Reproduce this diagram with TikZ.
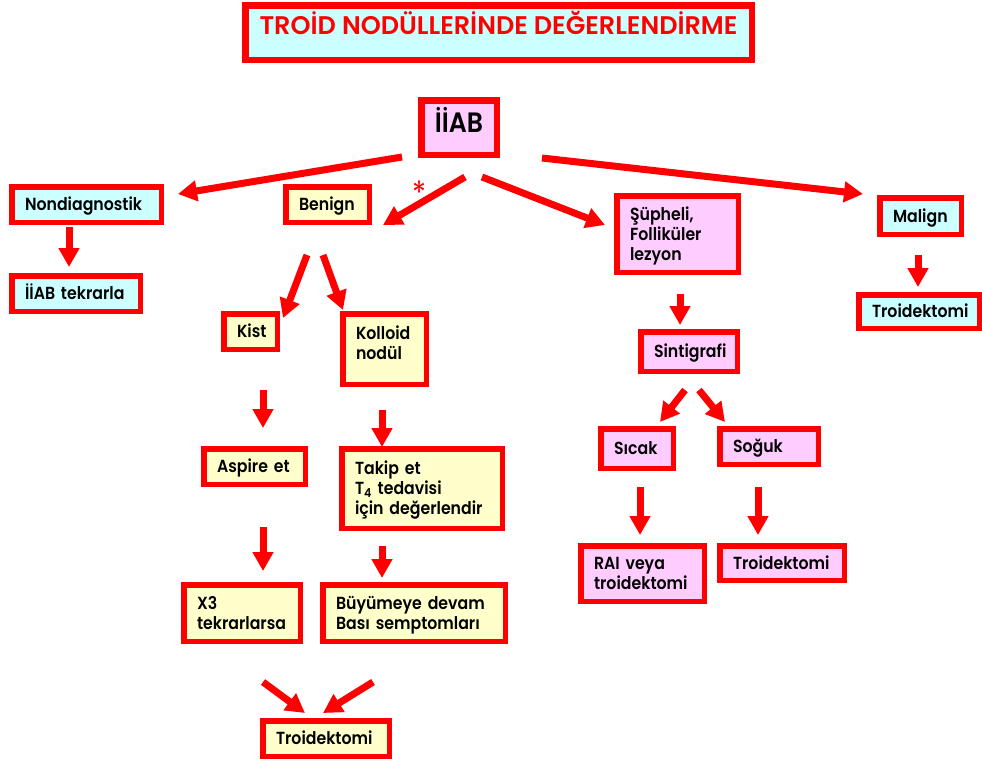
\documentclass[tikz,border=0pt]{standalone}
\usepackage{fontspec}
\setmainfont{Poppins}[FakeStretch=0.9, BoldFont={Poppins SemiBold}]
\newfontfamily\titlefont{Poppins}[BoldFont={Poppins SemiBold}]
\usetikzlibrary{arrows.meta}
\definecolor{cyanbg}{RGB}{204,255,255}
\definecolor{yellowbg}{RGB}{255,255,204}
\definecolor{pinkbg}{RGB}{255,204,255}
\newcommand\lblfont{\fontsize{17.5}{20}\selectfont\bfseries}
\begin{document}
\begin{tikzpicture}[x=1pt,y=-1pt,
  box/.style={draw=red, line width=5.5pt, inner xsep=13.25pt, inner ysep=0pt, outer sep=0pt,
    align=left, text height=12.5pt, text depth=0pt, font=\lblfont},
  cy/.style={fill=cyanbg}, ye/.style={fill=yellowbg}, pk/.style={fill=pinkbg},
  arr/.style={draw=red, line width=7pt, -{Triangle[width=20pt,length=19pt]}}]
\useasboundingbox (0,0) rectangle (982,764);

% title and root
\node[draw=red, line width=6.5pt, cy, outer sep=0pt, inner sep=0pt, minimum width=506.5pt, minimum height=54.5pt,
  text=red, font=\titlefont\fontsize{25.5}{28}\selectfont\bfseries, text height=17.5pt, text depth=14.5pt] (title) at (498.5,32.5)
  {TROİD NODÜLLERİNDE DEĞERLENDİRME};
\node[draw=red, line width=6.5pt, pk, outer sep=0pt, inner sep=0pt, minimum width=75.5pt, minimum height=54.5pt,
  font=\fontsize{28}{30}\selectfont\bfseries, text height=20pt, text depth=11pt] (iiab) at (459,127.5) {İİAB};

% first level
\node[box, cy, text width=123pt, minimum width=149.5pt, minimum height=35.5pt] (nond) at (86.5,204.5) {Nondiagnostik};
\node[box, cy, text width=102pt, minimum width=128.5pt, minimum height=35.5pt] (tekr) at (76,293.5) {İİAB~tekrarla};
\node[box, ye, text width=57pt, minimum width=83.5pt, minimum height=35.5pt] (benign) at (327.5,204.5) {Benign};
\node[box, pk, text width=95pt, minimum width=121.5pt, minimum height=76.5pt, text depth=40pt] (supheli) at (677.5,234)
  {Şüpheli,\\Folliküler\\lezyon};
\node[box, cy, text width=55pt, minimum width=81.5pt, minimum height=36.5pt] (malign) at (920.5,216) {Malign};
\node[box, cy, text width=94pt, minimum width=120.5pt, minimum height=33.5pt] (troidR) at (919,311.5) {Troidektomi};

% benign branch
\node[box, ye, text width=27pt, minimum width=53.5pt, minimum height=35.5pt] (kist) at (250.5,331.5) {Kist};
\node[box, ye, text width=57pt, minimum width=83.5pt, minimum height=70.5pt, text depth=31pt] (kolloid) at (384.5,349)
  {Kolloid\\nodül};
\node[box, ye, text width=75pt, minimum width=101.5pt, minimum height=35.5pt] (aspire) at (254.5,466.5) {Aspire~et};
\node[box, ye, text width=134pt, minimum width=160.5pt, minimum height=79.5pt, text depth=40pt] (takip) at (422,488.5)
  {Takip~et\\T\textsubscript{4}~tedavisi\\için~değerlendir};
\node[box, ye, text width=90pt, minimum width=116.5pt, minimum height=56.5pt, text depth=20pt] (x3) at (242,613)
  {X3\\tekrarlarsa};
\node[box, ye, text width=156pt, minimum width=182.5pt, minimum height=56.5pt, text depth=20pt] (buyu) at (414,613)
  {Büyümeye~devam\\Bası~semptomları};
\node[box, ye, text width=100pt, minimum width=126.5pt, minimum height=35.5pt] (troidB) at (326,738.5) {Troidektomi};

% suspicious branch
\node[box, pk, text width=70pt, minimum width=96.5pt, minimum height=39.5pt] (sinti) at (689,351.5) {Sintigrafi};
\node[box, pk, text width=46pt, minimum width=72.5pt, minimum height=39.5pt] (sicak) at (637,448.5) {Sıcak};
\node[box, pk, text width=72pt, minimum width=98.5pt, minimum height=35.5pt] (soguk) at (769,446.5) {Soğuk};
\node[box, pk, text width=97pt, minimum width=123.5pt, minimum height=55.5pt, text depth=20pt] (rai) at (642.5,573.5)
  {RAI~veya\\troidektomi};
\node[box, pk, text width=98pt, minimum width=124.5pt, minimum height=34.5pt] (troidS) at (782,563) {Troidektomi};

% asterisk
\node[text=red, font=\fontsize{32}{32}\selectfont, inner sep=0pt] (ast) at (419,193) {*};

% arrow end points
\coordinate (a1s) at (402,157); \coordinate (a1e) at (178,194);
\coordinate (a2s) at (465,177); \coordinate (a2e) at (383,225);
\coordinate (a3s) at (482,177); \coordinate (a3e) at (605,225);
\coordinate (a4s) at (542,158); \coordinate (a4e) at (863,194);
\coordinate (a5s) at (69,227);  \coordinate (a5e) at (69,267);
\coordinate (a6s) at (918,255); \coordinate (a6e) at (918,287);
\coordinate (a7s) at (680,294); \coordinate (a7e) at (680,325);
\coordinate (a8s) at (307,255); \coordinate (a8e) at (283,318);
\coordinate (a9s) at (323,255); \coordinate (a9e) at (343,310);
\coordinate (a10s) at (263,390); \coordinate (a10e) at (263,428);
\coordinate (a11s) at (382,410); \coordinate (a11e) at (382,447);
\coordinate (a12s) at (263,527); \coordinate (a12e) at (263,571);
\coordinate (a13s) at (382,546); \coordinate (a13e) at (382,578);
\coordinate (a14s) at (263,682); \coordinate (a14e) at (305,713);
\coordinate (a15s) at (373,682); \coordinate (a15e) at (323,713);
\coordinate (a16s) at (685,390); \coordinate (a16e) at (660,422);
\coordinate (a17s) at (699,390); \coordinate (a17e) at (725,422);
\coordinate (a18s) at (640,487); \coordinate (a18e) at (640,535);
\coordinate (a19s) at (758,487); \coordinate (a19e) at (758,535);

\foreach \i in {1,...,19} { \draw[arr] (a\i s) -- (a\i e); }
\end{tikzpicture}
\end{document}
